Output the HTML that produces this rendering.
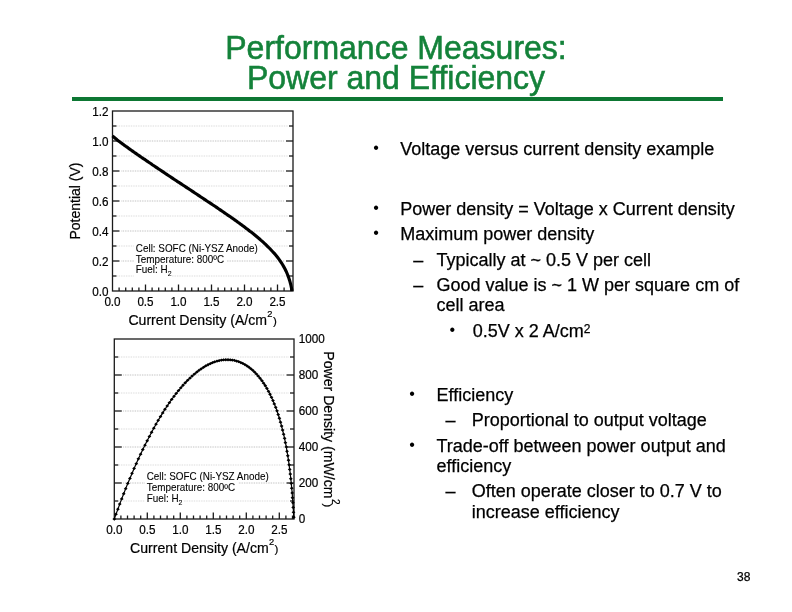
<!DOCTYPE html>
<html><head><meta charset="utf-8"><title>Performance Measures: Power and Efficiency</title>
<style>
html,body{margin:0;padding:0;background:#fff}
body{width:792px;height:612px;position:relative;overflow:hidden;font-family:"Liberation Sans",sans-serif}
.title{position:absolute;left:0;width:792px;text-align:center;color:#14823a;font-size:32px;line-height:30px;white-space:nowrap;-webkit-text-stroke:0.55px #14823a;transform:scaleY(1.033);transform-origin:50% 82%}
.rule{position:absolute;left:72px;top:97px;width:651px;height:4px;background:#0d7733}
.t{position:absolute;font-size:18px;line-height:21px;color:#000;white-space:nowrap;-webkit-text-stroke:0.25px #000}
.b{position:absolute;width:20px;text-align:center;font-size:16px;line-height:21px;color:#000}
.sup{font-size:12px;position:relative;top:-4px}
.pg{position:absolute;left:737px;top:569.5px;font-size:12px;line-height:14px;color:#000;-webkit-text-stroke:0.25px #000}
</style></head><body>
<div class="title" style="top:33.2px">Performance Measures:</div>
<div class="title" style="top:63.2px">Power and Efficiency</div>
<div class="rule"></div>
<svg width="792" height="612" viewBox="0 0 792 612" style="position:absolute;left:0;top:0" font-family="'Liberation Sans',sans-serif">
<g stroke="#d2d2d2" stroke-width="1" stroke-dasharray="0.8,0.9"><line x1="117.5" y1="276.0" x2="288.0" y2="276.0"/><line x1="121.5" y1="261.0" x2="284.0" y2="261.0" stroke="#b4b4b4"/><line x1="117.5" y1="246.0" x2="288.0" y2="246.0"/><line x1="121.5" y1="231.0" x2="284.0" y2="231.0" stroke="#b4b4b4"/><line x1="117.5" y1="216.0" x2="288.0" y2="216.0"/><line x1="121.5" y1="201.0" x2="284.0" y2="201.0" stroke="#b4b4b4"/><line x1="117.5" y1="186.0" x2="288.0" y2="186.0"/><line x1="121.5" y1="171.0" x2="284.0" y2="171.0" stroke="#b4b4b4"/><line x1="117.5" y1="156.0" x2="288.0" y2="156.0"/><line x1="121.5" y1="141.0" x2="284.0" y2="141.0" stroke="#b4b4b4"/><line x1="117.5" y1="126.0" x2="288.0" y2="126.0"/></g>
<g fill="#fff"><rect x="134" y="243" width="125" height="11"/><rect x="134" y="254" width="93" height="11"/><rect x="134" y="265" width="38" height="12"/></g>
<rect x="112.5" y="111.0" width="180.5" height="180.0" fill="none" stroke="#1a1a1a" stroke-width="1.3"/>
<g stroke="#1a1a1a" stroke-width="1.3"><line x1="112.5" y1="276.0" x2="116.5" y2="276.0"/><line x1="293.0" y1="276.0" x2="289.0" y2="276.0"/><line x1="112.5" y1="261.0" x2="119.5" y2="261.0"/><line x1="293.0" y1="261.0" x2="286.0" y2="261.0"/><line x1="112.5" y1="246.0" x2="116.5" y2="246.0"/><line x1="293.0" y1="246.0" x2="289.0" y2="246.0"/><line x1="112.5" y1="231.0" x2="119.5" y2="231.0"/><line x1="293.0" y1="231.0" x2="286.0" y2="231.0"/><line x1="112.5" y1="216.0" x2="116.5" y2="216.0"/><line x1="293.0" y1="216.0" x2="289.0" y2="216.0"/><line x1="112.5" y1="201.0" x2="119.5" y2="201.0"/><line x1="293.0" y1="201.0" x2="286.0" y2="201.0"/><line x1="112.5" y1="186.0" x2="116.5" y2="186.0"/><line x1="293.0" y1="186.0" x2="289.0" y2="186.0"/><line x1="112.5" y1="171.0" x2="119.5" y2="171.0"/><line x1="293.0" y1="171.0" x2="286.0" y2="171.0"/><line x1="112.5" y1="156.0" x2="116.5" y2="156.0"/><line x1="293.0" y1="156.0" x2="289.0" y2="156.0"/><line x1="112.5" y1="141.0" x2="119.5" y2="141.0"/><line x1="293.0" y1="141.0" x2="286.0" y2="141.0"/><line x1="112.5" y1="126.0" x2="116.5" y2="126.0"/><line x1="293.0" y1="126.0" x2="289.0" y2="126.0"/><line x1="119.1" y1="291.0" x2="119.1" y2="287.5"/><line x1="125.7" y1="291.0" x2="125.7" y2="287.5"/><line x1="132.3" y1="291.0" x2="132.3" y2="287.5"/><line x1="138.9" y1="291.0" x2="138.9" y2="287.5"/><line x1="145.5" y1="291.0" x2="145.5" y2="284.5"/><line x1="152.1" y1="291.0" x2="152.1" y2="287.5"/><line x1="158.7" y1="291.0" x2="158.7" y2="287.5"/><line x1="165.3" y1="291.0" x2="165.3" y2="287.5"/><line x1="171.9" y1="291.0" x2="171.9" y2="287.5"/><line x1="178.5" y1="291.0" x2="178.5" y2="284.5"/><line x1="185.1" y1="291.0" x2="185.1" y2="287.5"/><line x1="191.7" y1="291.0" x2="191.7" y2="287.5"/><line x1="198.3" y1="291.0" x2="198.3" y2="287.5"/><line x1="204.9" y1="291.0" x2="204.9" y2="287.5"/><line x1="211.5" y1="291.0" x2="211.5" y2="284.5"/><line x1="218.1" y1="291.0" x2="218.1" y2="287.5"/><line x1="224.7" y1="291.0" x2="224.7" y2="287.5"/><line x1="231.3" y1="291.0" x2="231.3" y2="287.5"/><line x1="237.9" y1="291.0" x2="237.9" y2="287.5"/><line x1="244.5" y1="291.0" x2="244.5" y2="284.5"/><line x1="251.1" y1="291.0" x2="251.1" y2="287.5"/><line x1="257.7" y1="291.0" x2="257.7" y2="287.5"/><line x1="264.3" y1="291.0" x2="264.3" y2="287.5"/><line x1="270.9" y1="291.0" x2="270.9" y2="287.5"/><line x1="277.5" y1="291.0" x2="277.5" y2="284.5"/><line x1="284.1" y1="291.0" x2="284.1" y2="287.5"/><line x1="290.7" y1="291.0" x2="290.7" y2="287.5"/></g>
<path d="M112.5,135.9 L113.7,137.0 L114.9,138.0 L116.1,139.0 L117.3,140.0 L118.5,140.9 L119.7,141.8 L120.9,142.7 L122.1,143.6 L123.4,144.5 L124.6,145.4 L125.8,146.3 L127.0,147.1 L128.2,148.0 L129.4,148.9 L130.6,149.7 L131.8,150.6 L133.0,151.4 L134.2,152.3 L135.4,153.1 L136.6,153.9 L137.8,154.8 L139.0,155.6 L140.2,156.4 L141.4,157.3 L142.6,158.1 L143.8,158.9 L145.1,159.7 L146.3,160.6 L147.5,161.4 L148.7,162.2 L149.9,163.0 L151.1,163.8 L152.3,164.7 L153.5,165.5 L154.7,166.3 L155.9,167.1 L157.1,167.9 L158.3,168.7 L159.5,169.5 L160.7,170.3 L161.9,171.1 L163.1,171.9 L164.3,172.7 L165.5,173.6 L166.8,174.4 L168.0,175.2 L169.2,176.0 L170.4,176.8 L171.6,177.6 L172.8,178.4 L174.0,179.2 L175.2,180.0 L176.4,180.8 L177.6,181.6 L178.8,182.3 L180.0,183.1 L181.2,183.9 L182.4,184.7 L183.6,185.5 L184.8,186.3 L186.0,187.1 L187.2,187.9 L188.5,188.7 L189.7,189.5 L190.9,190.3 L192.1,191.1 L193.3,191.9 L194.5,192.7 L195.7,193.5 L196.9,194.3 L198.1,195.1 L199.3,195.9 L200.5,196.7 L201.7,197.5 L202.9,198.3 L204.1,199.1 L205.3,199.9 L206.5,200.7 L207.7,201.5 L209.0,202.3 L210.2,203.1 L211.4,203.9 L212.6,204.7 L213.8,205.5 L215.0,206.3 L216.2,207.1 L217.4,207.9 L218.6,208.8 L219.8,209.6 L221.0,210.4 L222.2,211.2 L223.4,212.0 L224.6,212.9 L225.8,213.7 L227.0,214.5 L228.2,215.4 L229.4,216.2 L230.7,217.0 L231.9,217.9 L233.1,218.7 L234.3,219.6 L235.5,220.4 L236.7,221.3 L237.9,222.2 L239.1,223.0 L240.3,223.9 L241.5,224.8 L242.7,225.7 L243.9,226.6 L245.1,227.5 L246.3,228.4 L247.5,229.3 L248.7,230.2 L249.9,231.2 L251.1,232.1 L252.4,233.1 L253.6,234.0 L254.8,235.0 L256.0,236.0 L257.2,237.0 L258.4,238.0 L259.6,239.0 L260.8,240.1 L262.0,241.1 L263.2,242.2 L264.4,243.3 L265.6,244.4 L266.8,245.6 L268.0,246.8 L269.2,248.0 L270.4,249.2 L271.6,250.5 L272.8,251.8 L274.1,253.1 L275.3,254.5 L276.5,256.0 L277.7,257.5 L278.9,259.1 L280.1,260.8 L281.3,262.6 L282.5,264.5 L283.7,266.6 L284.9,268.8 L286.1,271.2 L287.3,274.0 L288.5,277.1 L289.7,280.7 L290.9,285.2 L292.1,291.0" fill="none" stroke="#000" stroke-width="3.15" stroke-linejoin="round"/>
<g font-size="11.7" fill="#000" stroke="#000" stroke-width="0.2"><text transform="translate(108.5,295.5) scale(1,1.08)" text-anchor="end">0.0</text><text transform="translate(108.5,265.5) scale(1,1.08)" text-anchor="end">0.2</text><text transform="translate(108.5,235.5) scale(1,1.08)" text-anchor="end">0.4</text><text transform="translate(108.5,205.5) scale(1,1.08)" text-anchor="end">0.6</text><text transform="translate(108.5,175.5) scale(1,1.08)" text-anchor="end">0.8</text><text transform="translate(108.5,145.5) scale(1,1.08)" text-anchor="end">1.0</text><text transform="translate(108.5,115.5) scale(1,1.08)" text-anchor="end">1.2</text><text transform="translate(112.5,306.0) scale(1,1.08)" text-anchor="middle">0.0</text><text transform="translate(145.5,306.0) scale(1,1.08)" text-anchor="middle">0.5</text><text transform="translate(178.5,306.0) scale(1,1.08)" text-anchor="middle">1.0</text><text transform="translate(211.5,306.0) scale(1,1.08)" text-anchor="middle">1.5</text><text transform="translate(244.5,306.0) scale(1,1.08)" text-anchor="middle">2.0</text><text transform="translate(277.5,306.0) scale(1,1.08)" text-anchor="middle">2.5</text></g>
<text x="128.4" y="325" font-size="14.1" fill="#000" stroke="#000" stroke-width="0.2">Current Density (A/cm<tspan dx="0.3" dy="-8" font-size="9.3">2</tspan><tspan dx="0.4" dy="8.4" font-size="11.5">)</tspan></text>
<text transform="translate(79.6,201) rotate(-90)" text-anchor="middle" font-size="14" fill="#000" stroke="#000" stroke-width="0.2">Potential (V)</text>
<g font-size="9.9" fill="#000" stroke="#000" stroke-width="0.08"><text transform="translate(135.8,251.9) scale(1,1.12)">Cell: SOFC (Ni-YSZ Anode)</text><text transform="translate(135.8,262.5) scale(1,1.12)">Temperature: 800<tspan font-size="10.2" dy="0.8">º</tspan><tspan dy="-0.8">C</tspan></text><text transform="translate(135.8,273.1) scale(1,1.12)">Fuel: H<tspan dy="2.2" font-size="7">2</tspan></text></g>
<g stroke="#d2d2d2" stroke-width="1" stroke-dasharray="0.8,0.9"><line x1="119.3" y1="501.0" x2="289.0" y2="501.0"/><line x1="123.3" y1="483.0" x2="285.0" y2="483.0" stroke="#b4b4b4"/><line x1="119.3" y1="465.0" x2="289.0" y2="465.0"/><line x1="123.3" y1="447.0" x2="285.0" y2="447.0" stroke="#b4b4b4"/><line x1="119.3" y1="429.0" x2="289.0" y2="429.0"/><line x1="123.3" y1="411.0" x2="285.0" y2="411.0" stroke="#b4b4b4"/><line x1="119.3" y1="393.0" x2="289.0" y2="393.0"/><line x1="123.3" y1="375.0" x2="285.0" y2="375.0" stroke="#b4b4b4"/><line x1="119.3" y1="357.0" x2="289.0" y2="357.0"/></g>
<g fill="#fff"><rect x="145" y="471" width="125" height="11"/><rect x="145" y="482" width="93" height="11"/><rect x="145" y="493" width="38" height="12"/></g>
<rect x="114.3" y="339.0" width="179.7" height="180.0" fill="none" stroke="#1a1a1a" stroke-width="1.3"/>
<g stroke="#1a1a1a" stroke-width="1.3"><line x1="114.3" y1="501.0" x2="118.3" y2="501.0"/><line x1="294.0" y1="501.0" x2="290.0" y2="501.0"/><line x1="114.3" y1="483.0" x2="121.8" y2="483.0"/><line x1="294.0" y1="483.0" x2="286.5" y2="483.0"/><line x1="114.3" y1="465.0" x2="118.3" y2="465.0"/><line x1="294.0" y1="465.0" x2="290.0" y2="465.0"/><line x1="114.3" y1="447.0" x2="121.8" y2="447.0"/><line x1="294.0" y1="447.0" x2="286.5" y2="447.0"/><line x1="114.3" y1="429.0" x2="118.3" y2="429.0"/><line x1="294.0" y1="429.0" x2="290.0" y2="429.0"/><line x1="114.3" y1="411.0" x2="121.8" y2="411.0"/><line x1="294.0" y1="411.0" x2="286.5" y2="411.0"/><line x1="114.3" y1="393.0" x2="118.3" y2="393.0"/><line x1="294.0" y1="393.0" x2="290.0" y2="393.0"/><line x1="114.3" y1="375.0" x2="121.8" y2="375.0"/><line x1="294.0" y1="375.0" x2="286.5" y2="375.0"/><line x1="114.3" y1="357.0" x2="118.3" y2="357.0"/><line x1="294.0" y1="357.0" x2="290.0" y2="357.0"/><line x1="120.9" y1="519.0" x2="120.9" y2="515.5"/><line x1="127.5" y1="519.0" x2="127.5" y2="515.5"/><line x1="134.1" y1="519.0" x2="134.1" y2="515.5"/><line x1="140.7" y1="519.0" x2="140.7" y2="515.5"/><line x1="147.3" y1="519.0" x2="147.3" y2="512.5"/><line x1="153.9" y1="519.0" x2="153.9" y2="515.5"/><line x1="160.5" y1="519.0" x2="160.5" y2="515.5"/><line x1="167.1" y1="519.0" x2="167.1" y2="515.5"/><line x1="173.7" y1="519.0" x2="173.7" y2="515.5"/><line x1="180.3" y1="519.0" x2="180.3" y2="512.5"/><line x1="186.9" y1="519.0" x2="186.9" y2="515.5"/><line x1="193.5" y1="519.0" x2="193.5" y2="515.5"/><line x1="200.1" y1="519.0" x2="200.1" y2="515.5"/><line x1="206.7" y1="519.0" x2="206.7" y2="515.5"/><line x1="213.3" y1="519.0" x2="213.3" y2="512.5"/><line x1="219.9" y1="519.0" x2="219.9" y2="515.5"/><line x1="226.5" y1="519.0" x2="226.5" y2="515.5"/><line x1="233.1" y1="519.0" x2="233.1" y2="515.5"/><line x1="239.7" y1="519.0" x2="239.7" y2="515.5"/><line x1="246.3" y1="519.0" x2="246.3" y2="512.5"/><line x1="252.9" y1="519.0" x2="252.9" y2="515.5"/><line x1="259.5" y1="519.0" x2="259.5" y2="515.5"/><line x1="266.1" y1="519.0" x2="266.1" y2="515.5"/><line x1="272.7" y1="519.0" x2="272.7" y2="515.5"/><line x1="279.3" y1="519.0" x2="279.3" y2="512.5"/><line x1="285.9" y1="519.0" x2="285.9" y2="515.5"/><line x1="292.5" y1="519.0" x2="292.5" y2="515.5"/></g>
<path d="M114.3,519.0 L116.0,514.1 L117.9,509.2 L119.7,504.1 L121.7,498.9 L123.7,493.8 L125.7,488.6 L127.8,483.5 L129.9,478.4 L132.0,473.4 L134.1,468.5 L136.3,463.6 L138.4,458.8 L140.6,454.2 L142.8,449.6 L145.0,445.1 L147.2,440.7 L149.4,436.4 L151.6,432.2 L153.8,428.2 L156.0,424.2 L158.2,420.3 L160.5,416.6 L162.7,412.9 L164.9,409.4 L167.2,406.0 L169.4,402.6 L171.7,399.4 L174.0,396.4 L176.2,393.4 L178.5,390.6 L180.8,387.8 L183.0,385.2 L185.3,382.7 L187.6,380.4 L189.9,378.1 L192.1,376.0 L194.4,374.0 L196.7,372.2 L198.9,370.4 L201.2,368.8 L203.5,367.3 L205.7,366.0 L208.0,364.7 L210.3,363.6 L212.5,362.7 L214.7,361.8 L217.0,361.2 L219.2,360.6 L221.4,360.2 L223.6,359.9 L225.8,359.7 L228.0,359.7 L230.2,359.8 L232.3,360.1 L234.5,360.5 L236.6,361.0 L238.7,361.7 L240.8,362.5 L242.8,363.5 L244.9,364.6 L246.9,365.8 L248.9,367.2 L250.8,368.7 L252.8,370.3 L254.7,372.1 L256.5,374.1 L258.3,376.1 L260.1,378.3 L261.9,380.7 L263.6,383.1 L265.3,385.7 L266.9,388.5 L268.5,391.3 L270.0,394.3 L271.5,397.4 L273.0,400.6 L274.3,403.9 L275.7,407.3 L277.0,410.9 L278.2,414.5 L279.4,418.3 L280.5,422.1 L281.6,426.1 L282.6,430.1 L283.6,434.2 L284.6,438.4 L285.4,442.6 L286.3,446.9 L287.0,451.3 L287.8,455.8 L288.5,460.3 L289.1,464.8 L289.7,469.4 L290.3,474.0 L290.8,478.7 L291.3,483.4 L291.7,488.2 L292.2,493.0 L292.5,497.8 L292.9,502.6 L293.2,507.5 L293.5,512.3 L293.8,517.2" fill="none" stroke="#000" stroke-width="1.2" stroke-linejoin="round"/>
<g fill="#000"><path d="M114.3,517.4 l1.9,1.65 l-1.9,1.65 l-1.9,-1.65z"/><path d="M116.0,512.5 l1.9,1.65 l-1.9,1.65 l-1.9,-1.65z"/><path d="M117.9,507.5 l1.9,1.65 l-1.9,1.65 l-1.9,-1.65z"/><path d="M119.7,502.4 l1.9,1.65 l-1.9,1.65 l-1.9,-1.65z"/><path d="M121.7,497.3 l1.9,1.65 l-1.9,1.65 l-1.9,-1.65z"/><path d="M123.7,492.1 l1.9,1.65 l-1.9,1.65 l-1.9,-1.65z"/><path d="M125.7,487.0 l1.9,1.65 l-1.9,1.65 l-1.9,-1.65z"/><path d="M127.8,481.8 l1.9,1.65 l-1.9,1.65 l-1.9,-1.65z"/><path d="M129.9,476.8 l1.9,1.65 l-1.9,1.65 l-1.9,-1.65z"/><path d="M132.0,471.7 l1.9,1.65 l-1.9,1.65 l-1.9,-1.65z"/><path d="M134.1,466.8 l1.9,1.65 l-1.9,1.65 l-1.9,-1.65z"/><path d="M136.3,462.0 l1.9,1.65 l-1.9,1.65 l-1.9,-1.65z"/><path d="M138.4,457.2 l1.9,1.65 l-1.9,1.65 l-1.9,-1.65z"/><path d="M140.6,452.5 l1.9,1.65 l-1.9,1.65 l-1.9,-1.65z"/><path d="M142.8,447.9 l1.9,1.65 l-1.9,1.65 l-1.9,-1.65z"/><path d="M145.0,443.5 l1.9,1.65 l-1.9,1.65 l-1.9,-1.65z"/><path d="M147.2,439.1 l1.9,1.65 l-1.9,1.65 l-1.9,-1.65z"/><path d="M149.4,434.8 l1.9,1.65 l-1.9,1.65 l-1.9,-1.65z"/><path d="M151.6,430.6 l1.9,1.65 l-1.9,1.65 l-1.9,-1.65z"/><path d="M153.8,426.5 l1.9,1.65 l-1.9,1.65 l-1.9,-1.65z"/><path d="M156.0,422.5 l1.9,1.65 l-1.9,1.65 l-1.9,-1.65z"/><path d="M158.2,418.7 l1.9,1.65 l-1.9,1.65 l-1.9,-1.65z"/><path d="M160.5,414.9 l1.9,1.65 l-1.9,1.65 l-1.9,-1.65z"/><path d="M162.7,411.3 l1.9,1.65 l-1.9,1.65 l-1.9,-1.65z"/><path d="M164.9,407.7 l1.9,1.65 l-1.9,1.65 l-1.9,-1.65z"/><path d="M167.2,404.3 l1.9,1.65 l-1.9,1.65 l-1.9,-1.65z"/><path d="M169.4,401.0 l1.9,1.65 l-1.9,1.65 l-1.9,-1.65z"/><path d="M171.7,397.8 l1.9,1.65 l-1.9,1.65 l-1.9,-1.65z"/><path d="M174.0,394.7 l1.9,1.65 l-1.9,1.65 l-1.9,-1.65z"/><path d="M176.2,391.8 l1.9,1.65 l-1.9,1.65 l-1.9,-1.65z"/><path d="M178.5,388.9 l1.9,1.65 l-1.9,1.65 l-1.9,-1.65z"/><path d="M180.8,386.2 l1.9,1.65 l-1.9,1.65 l-1.9,-1.65z"/><path d="M183.0,383.6 l1.9,1.65 l-1.9,1.65 l-1.9,-1.65z"/><path d="M185.3,381.1 l1.9,1.65 l-1.9,1.65 l-1.9,-1.65z"/><path d="M187.6,378.7 l1.9,1.65 l-1.9,1.65 l-1.9,-1.65z"/><path d="M189.9,376.5 l1.9,1.65 l-1.9,1.65 l-1.9,-1.65z"/><path d="M192.1,374.4 l1.9,1.65 l-1.9,1.65 l-1.9,-1.65z"/><path d="M194.4,372.4 l1.9,1.65 l-1.9,1.65 l-1.9,-1.65z"/><path d="M196.7,370.5 l1.9,1.65 l-1.9,1.65 l-1.9,-1.65z"/><path d="M198.9,368.8 l1.9,1.65 l-1.9,1.65 l-1.9,-1.65z"/><path d="M201.2,367.2 l1.9,1.65 l-1.9,1.65 l-1.9,-1.65z"/><path d="M203.5,365.7 l1.9,1.65 l-1.9,1.65 l-1.9,-1.65z"/><path d="M205.7,364.3 l1.9,1.65 l-1.9,1.65 l-1.9,-1.65z"/><path d="M208.0,363.1 l1.9,1.65 l-1.9,1.65 l-1.9,-1.65z"/><path d="M210.3,362.0 l1.9,1.65 l-1.9,1.65 l-1.9,-1.65z"/><path d="M212.5,361.0 l1.9,1.65 l-1.9,1.65 l-1.9,-1.65z"/><path d="M214.7,360.2 l1.9,1.65 l-1.9,1.65 l-1.9,-1.65z"/><path d="M217.0,359.5 l1.9,1.65 l-1.9,1.65 l-1.9,-1.65z"/><path d="M219.2,358.9 l1.9,1.65 l-1.9,1.65 l-1.9,-1.65z"/><path d="M221.4,358.5 l1.9,1.65 l-1.9,1.65 l-1.9,-1.65z"/><path d="M223.6,358.2 l1.9,1.65 l-1.9,1.65 l-1.9,-1.65z"/><path d="M225.8,358.1 l1.9,1.65 l-1.9,1.65 l-1.9,-1.65z"/><path d="M228.0,358.1 l1.9,1.65 l-1.9,1.65 l-1.9,-1.65z"/><path d="M230.2,358.2 l1.9,1.65 l-1.9,1.65 l-1.9,-1.65z"/><path d="M232.3,358.4 l1.9,1.65 l-1.9,1.65 l-1.9,-1.65z"/><path d="M234.5,358.8 l1.9,1.65 l-1.9,1.65 l-1.9,-1.65z"/><path d="M236.6,359.4 l1.9,1.65 l-1.9,1.65 l-1.9,-1.65z"/><path d="M238.7,360.0 l1.9,1.65 l-1.9,1.65 l-1.9,-1.65z"/><path d="M240.8,360.9 l1.9,1.65 l-1.9,1.65 l-1.9,-1.65z"/><path d="M242.8,361.8 l1.9,1.65 l-1.9,1.65 l-1.9,-1.65z"/><path d="M244.9,362.9 l1.9,1.65 l-1.9,1.65 l-1.9,-1.65z"/><path d="M246.9,364.2 l1.9,1.65 l-1.9,1.65 l-1.9,-1.65z"/><path d="M248.9,365.5 l1.9,1.65 l-1.9,1.65 l-1.9,-1.65z"/><path d="M250.8,367.0 l1.9,1.65 l-1.9,1.65 l-1.9,-1.65z"/><path d="M252.8,368.7 l1.9,1.65 l-1.9,1.65 l-1.9,-1.65z"/><path d="M254.7,370.5 l1.9,1.65 l-1.9,1.65 l-1.9,-1.65z"/><path d="M256.5,372.4 l1.9,1.65 l-1.9,1.65 l-1.9,-1.65z"/><path d="M258.3,374.5 l1.9,1.65 l-1.9,1.65 l-1.9,-1.65z"/><path d="M260.1,376.7 l1.9,1.65 l-1.9,1.65 l-1.9,-1.65z"/><path d="M261.9,379.0 l1.9,1.65 l-1.9,1.65 l-1.9,-1.65z"/><path d="M263.6,381.5 l1.9,1.65 l-1.9,1.65 l-1.9,-1.65z"/><path d="M265.3,384.1 l1.9,1.65 l-1.9,1.65 l-1.9,-1.65z"/><path d="M266.9,386.8 l1.9,1.65 l-1.9,1.65 l-1.9,-1.65z"/><path d="M268.5,389.7 l1.9,1.65 l-1.9,1.65 l-1.9,-1.65z"/><path d="M270.0,392.6 l1.9,1.65 l-1.9,1.65 l-1.9,-1.65z"/><path d="M271.5,395.7 l1.9,1.65 l-1.9,1.65 l-1.9,-1.65z"/><path d="M273.0,398.9 l1.9,1.65 l-1.9,1.65 l-1.9,-1.65z"/><path d="M274.3,402.3 l1.9,1.65 l-1.9,1.65 l-1.9,-1.65z"/><path d="M275.7,405.7 l1.9,1.65 l-1.9,1.65 l-1.9,-1.65z"/><path d="M277.0,409.2 l1.9,1.65 l-1.9,1.65 l-1.9,-1.65z"/><path d="M278.2,412.9 l1.9,1.65 l-1.9,1.65 l-1.9,-1.65z"/><path d="M279.4,416.6 l1.9,1.65 l-1.9,1.65 l-1.9,-1.65z"/><path d="M280.5,420.5 l1.9,1.65 l-1.9,1.65 l-1.9,-1.65z"/><path d="M281.6,424.4 l1.9,1.65 l-1.9,1.65 l-1.9,-1.65z"/><path d="M282.6,428.4 l1.9,1.65 l-1.9,1.65 l-1.9,-1.65z"/><path d="M283.6,432.5 l1.9,1.65 l-1.9,1.65 l-1.9,-1.65z"/><path d="M284.6,436.7 l1.9,1.65 l-1.9,1.65 l-1.9,-1.65z"/><path d="M285.4,441.0 l1.9,1.65 l-1.9,1.65 l-1.9,-1.65z"/><path d="M286.3,445.3 l1.9,1.65 l-1.9,1.65 l-1.9,-1.65z"/><path d="M287.0,449.7 l1.9,1.65 l-1.9,1.65 l-1.9,-1.65z"/><path d="M287.8,454.1 l1.9,1.65 l-1.9,1.65 l-1.9,-1.65z"/><path d="M288.5,458.6 l1.9,1.65 l-1.9,1.65 l-1.9,-1.65z"/><path d="M289.1,463.2 l1.9,1.65 l-1.9,1.65 l-1.9,-1.65z"/><path d="M289.7,467.8 l1.9,1.65 l-1.9,1.65 l-1.9,-1.65z"/><path d="M290.3,472.4 l1.9,1.65 l-1.9,1.65 l-1.9,-1.65z"/><path d="M290.8,477.1 l1.9,1.65 l-1.9,1.65 l-1.9,-1.65z"/><path d="M291.3,481.8 l1.9,1.65 l-1.9,1.65 l-1.9,-1.65z"/><path d="M291.7,486.5 l1.9,1.65 l-1.9,1.65 l-1.9,-1.65z"/><path d="M292.2,491.3 l1.9,1.65 l-1.9,1.65 l-1.9,-1.65z"/><path d="M292.5,496.1 l1.9,1.65 l-1.9,1.65 l-1.9,-1.65z"/><path d="M292.9,501.0 l1.9,1.65 l-1.9,1.65 l-1.9,-1.65z"/><path d="M293.2,505.8 l1.9,1.65 l-1.9,1.65 l-1.9,-1.65z"/><path d="M293.5,510.7 l1.9,1.65 l-1.9,1.65 l-1.9,-1.65z"/><path d="M293.8,515.6 l1.9,1.65 l-1.9,1.65 l-1.9,-1.65z"/></g>
<g font-size="11.7" fill="#000" stroke="#000" stroke-width="0.2"><text transform="translate(298.8,523.3) scale(1,1.08)">0</text><text transform="translate(298.8,487.3) scale(1,1.08)">200</text><text transform="translate(298.8,451.3) scale(1,1.08)">400</text><text transform="translate(298.8,415.3) scale(1,1.08)">600</text><text transform="translate(298.8,379.3) scale(1,1.08)">800</text><text transform="translate(298.8,343.3) scale(1,1.08)">1000</text><text transform="translate(114.3,534.0) scale(1,1.08)" text-anchor="middle">0.0</text><text transform="translate(147.3,534.0) scale(1,1.08)" text-anchor="middle">0.5</text><text transform="translate(180.3,534.0) scale(1,1.08)" text-anchor="middle">1.0</text><text transform="translate(213.3,534.0) scale(1,1.08)" text-anchor="middle">1.5</text><text transform="translate(246.3,534.0) scale(1,1.08)" text-anchor="middle">2.0</text><text transform="translate(279.3,534.0) scale(1,1.08)" text-anchor="middle">2.5</text></g>
<text x="130.1" y="552.7" font-size="14.1" fill="#000" stroke="#000" stroke-width="0.2">Current Density (A/cm<tspan dx="0.3" dy="-8" font-size="9.3">2</tspan><tspan dx="0.4" dy="8.4" font-size="11.5">)</tspan></text>
<text transform="translate(324,351.3) rotate(90)" font-size="14.1" fill="#000" stroke="#000" stroke-width="0.2">Power Density (mW/cm<tspan dx="0.5" dy="-8" font-size="10">2</tspan><tspan dx="-1.1" dy="8.5" font-size="11.4">)</tspan></text>
<g font-size="9.9" fill="#000" stroke="#000" stroke-width="0.08"><text transform="translate(146.7,480.2) scale(1,1.12)">Cell: SOFC (Ni-YSZ Anode)</text><text transform="translate(146.7,491.2) scale(1,1.12)">Temperature: 800<tspan font-size="10.2" dy="0.8">º</tspan><tspan dy="-0.8">C</tspan></text><text transform="translate(146.7,502.1) scale(1,1.12)">Fuel: H<tspan dy="2.2" font-size="7">2</tspan></text></g>
</svg>
<div class="b" style="left:366.1px;top:137px">•</div>
<div class="t" style="left:400.2px;top:139px">Voltage versus current density example</div>
<div class="b" style="left:366.1px;top:197px">•</div>
<div class="t" style="left:400.2px;top:199px">Power density = Voltage x Current density</div>
<div class="b" style="left:366.1px;top:222px">•</div>
<div class="t" style="left:400.2px;top:224px">Maximum power density</div>
<div class="t" style="left:413.3px;top:250px">–</div>
<div class="t" style="left:436.5px;top:250px">Typically at ~ 0.5 V per cell</div>
<div class="t" style="left:413.3px;top:275px">–</div>
<div class="t" style="left:436.5px;top:275px">Good value is ~ 1 W per square cm of</div>
<div class="t" style="left:436.5px;top:295px">cell area</div>
<div class="b" style="left:442.4px;top:319px">•</div>
<div class="t" style="left:472.8px;top:321px">0.5V x 2 A/cm<span class="sup">2</span></div>
<div class="b" style="left:402.1px;top:383px">•</div>
<div class="t" style="left:436.5px;top:385px">Efficiency</div>
<div class="t" style="left:445.5px;top:410px">–</div>
<div class="t" style="left:471.7px;top:410px">Proportional to output voltage</div>
<div class="b" style="left:402.1px;top:434px">•</div>
<div class="t" style="left:436.5px;top:436px">Trade-off between power output and</div>
<div class="t" style="left:436.5px;top:456px">efficiency</div>
<div class="t" style="left:445.5px;top:481px">–</div>
<div class="t" style="left:471.7px;top:481px">Often operate closer to 0.7 V to</div>
<div class="t" style="left:471.7px;top:502px">increase efficiency</div>
<div class="pg">38</div>
</body></html>
